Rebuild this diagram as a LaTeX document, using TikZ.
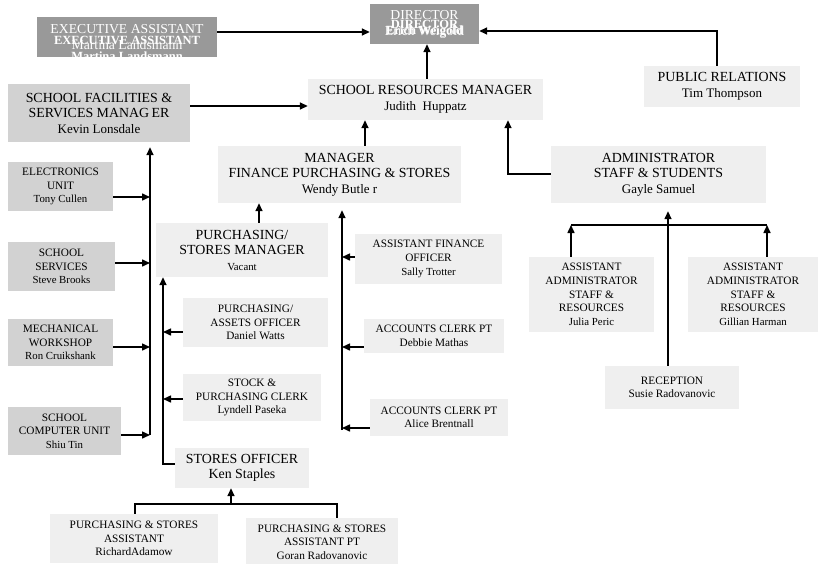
\documentclass[tikz,border=0pt]{standalone}
\usepackage{fontspec}
\setmainfont{Liberation Serif}
\usetikzlibrary{arrows.meta}
\definecolor{boxdark}{HTML}{999999}
\definecolor{boxmid}{HTML}{D2D2D2}
\definecolor{boxlight}{HTML}{EFEFEF}
\newcommand{\fbig}{\fontsize{13.9}{15.5}\selectfont}
\newcommand{\fmed}{\fontsize{13}{15.5}\selectfont}
\newcommand{\fsmall}{\fontsize{11.3}{13.6}\selectfont}
\newcommand{\fname}{\fontsize{10.8}{13.6}\selectfont}
\begin{document}
\begin{tikzpicture}[x=1pt,y=-1pt,
  every node/.style={inner sep=0pt,align=center},
  darkbox/.style={fill=boxdark,text=white,font=\fontsize{13.7}{16}\selectfont},
  overtext/.style={text=white,font=\bfseries\fontsize{12.5}{16}\selectfont},
  midbox/.style={fill=boxmid,font=\fsmall},
  lightbox/.style={fill=boxlight,font=\fsmall},
  bigbox/.style={font=\fbig},
  line/.style={line width=1.5pt},
  arr/.style={line width=1.5pt,-{Triangle[length=8pt,width=7pt]}}]
\useasboundingbox (0,0) rectangle (818,564);
% top row
\node[darkbox,minimum width=180,minimum height=40] (exec) at (127,37) {EXECUTIVE ASSISTANT\\Martina Landsmann};
\node[overtext] (execb) at (127,48) {EXECUTIVE ASSISTANT\\Martina Landsmann};
\node[darkbox,minimum width=109,minimum height=40] (dir) at (424.5,24) {DIRECTOR\\Erich Weigold};
\node[overtext] (dirb) at (424.5,24) {DIRECTOR};
\node[overtext] (dirn) at (424.5,32) {Erich Weigold};
\node[lightbox,bigbox,minimum width=156,minimum height=41] (pr) at (722,86.5) {PUBLIC RELATIONS\\\fmed Tim Thompson};
\node[lightbox,bigbox,minimum width=235,minimum height=41] (srm) at (425.5,99.5) {SCHOOL RESOURCES MANAGER\\\fmed Judith\ \ Huppatz};
\node[midbox,bigbox,minimum width=182,minimum height=58] (sfsm) at (99,113) {SCHOOL FACILITIES \&\\SERVICES MANAG\,ER\\\fmed Kevin Lonsdale};
% left column
\node[midbox,minimum width=105,minimum height=49] (elec) at (60.5,186.5) {ELECTRONICS\\UNIT\\\fname Tony Cullen};
\node[midbox,minimum width=107,minimum height=49] (serv) at (61.5,266.5) {SCHOOL\\SERVICES\\\fname Steve Brooks};
\node[midbox,minimum width=105,minimum height=47] (mech) at (60.5,342.5) {MECHANICAL\\WORKSHOP\\\fname Ron Cruikshank};
\node[midbox,minimum width=113,minimum height=48] (comp) at (64.5,431) {SCHOOL\\COMPUTER UNIT\\\fname Shiu Tin};
% finance
\node[lightbox,bigbox,minimum width=243,minimum height=57] (mfps) at (339.5,174.5) {MANAGER\\FINANCE PURCHASING \& STORES\\\fmed Wendy Butle r};
\node[lightbox,bigbox,minimum width=172,minimum height=54] (psm) at (242,250) {PURCHASING/\\STORES MANAGER\\\fname Vacant};
\node[lightbox,minimum width=147,minimum height=50] (afo) at (428.5,259) {ASSISTANT FINANCE\\OFFICER\\\fname Sally Trotter};
\node[lightbox,minimum width=140,minimum height=34] (acc1) at (434,336) {ACCOUNTS CLERK PT\\Debbie Mathas};
\node[lightbox,minimum width=138,minimum height=37] (acc2) at (439,417.5) {ACCOUNTS CLERK PT\\Alice Brentnall};
\node[lightbox,minimum width=145,minimum height=49] (pao) at (255.5,322.5) {PURCHASING/\\ASSETS OFFICER\\Daniel Watts};
\node[lightbox,minimum width=138,minimum height=47] (spc) at (252,397.5) {STOCK \&\\PURCHASING CLERK\\Lyndell Paseka};
\node[lightbox,bigbox,minimum width=134,minimum height=40] (so) at (242,468) {STORES OFFICER\\Ken Staples};
\node[lightbox,minimum width=168,minimum height=49] (psa) at (134,538.5) {PURCHASING \& STORES\\ASSISTANT\\RichardAdamow};
\node[lightbox,minimum width=152,minimum height=48] (psapt) at (322,542) {PURCHASING \& STORES\\ASSISTANT PT\\Goran Radovanovic};
% staff and students
\node[lightbox,bigbox,minimum width=215,minimum height=57] (ass) at (658.5,174.5) {ADMINISTRATOR\\STAFF \& STUDENTS\\\fmed Gayle Samuel};
\node[lightbox,minimum width=125,minimum height=75] (aa1) at (591.5,294.5) {ASSISTANT\\ADMINISTRATOR\\STAFF \&\\RESOURCES\\\fname Julia Peric};
\node[lightbox,minimum width=130,minimum height=75] (aa2) at (753,294.5) {ASSISTANT\\ADMINISTRATOR\\STAFF \&\\RESOURCES\\\fname Gillian Harman};
\node[lightbox,minimum width=134,minimum height=43] (rec) at (672,387.5) {RECEPTION\\Susie Radovanovic};
\coordinate (lt) at (150,435);
\coordinate (ft) at (342,430);
\coordinate (pt) at (163,464);
% connectors
\draw[arr] (exec.east |- 0,32) -- (dir.west |- 0,32);
\draw[arr] ([xshift=-5pt]pr.north) |- (dir.east |- 0,31);
\draw[arr] (srm.north -| 427,0) -- (dir.south -| 427,0);
\draw[arr] (sfsm.east |- 0,106) -- (srm.west |- 0,106);
\draw[arr] (mfps.north -| 365,0) -- (srm.south -| 365,0);
\draw[arr] (ass.west |- 0,174) -| (srm.south -| 508,0);
\draw[arr,shorten >=5pt] (lt) -- (lt |- sfsm.south);
\draw[arr] (elec.east |- 0,197) -- (lt |- 0,197);
\draw[arr] (serv.east |- 0,263) -- (lt |- 0,263);
\draw[arr] (mech.east |- 0,347) -- (lt |- 0,347);
\draw[arr] (comp.east |- 0,435) -- (lt);
\draw[arr] (psm.north -| 259,0) -- (mfps.south -| 259,0);
\draw[arr,shorten >=7pt] (ft) -- (ft |- mfps.south);
\draw[arr] (afo.west |- 0,257) -- (ft |- 0,257);
\draw[arr] (acc1.west |- 0,347) -- (ft |- 0,347);
\draw[arr] (acc2.west |- 0,428) -- (ft |- 0,428);
\draw[arr] (so.west |- pt) -- (pt) -- (pt |- psm.south);
\draw[arr] (pao.west |- 0,332) -- (pt |- 0,332);
\draw[arr] (spc.west |- 0,399) -- (pt |- 0,399);
\draw[line] (psa.north -| 135,0) |- (337,504) -- (psapt.north -| 337,0);
\draw[arr] (231,504) -- (so.south -| 231,0);
\draw[line] (571,225) -- (767,225);
\draw[arr] (aa1.north -| 571,0) -- (571,225);
\draw[arr] (aa2.north -| 767,0) -- (767,225);
\draw[arr,shorten >=8pt] (rec.north -| 668,0) -- (ass.south -| 668,0);
\end{tikzpicture}
\end{document}
